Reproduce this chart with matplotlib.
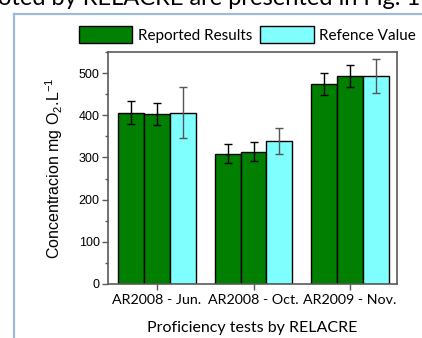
import matplotlib
matplotlib.use("Agg")
import matplotlib.pyplot as plt
from matplotlib.lines import Line2D
from matplotlib.patches import Patch
from matplotlib.ticker import MultipleLocator
import numpy as np

groups = ["AR2008 - Jun.", "AR2008 - Oct.", "AR2009 - Nov."]
reported_a = [406, 309, 475]
reported_a_err = [27, 23, 26]
reported_b = [404, 314, 492]
reported_b_err = [26, 23, 26]
reference = [406, 339, 493]
reference_err = [60, 30, 40]

green = "#007f00"
cyan = "#80ffff"
spine_col = "#5a5a5a"

plt.rcParams["mathtext.fontset"] = "custom"
plt.rcParams["mathtext.rm"] = "Liberation Sans"
plt.rcParams["mathtext.it"] = "Liberation Sans:italic"

fig = plt.figure(figsize=(4.22, 3.38), dpi=100)
W, H = 422.0, 338.0
ax = fig.add_axes([108 / W, 1 - 284 / H, (397 - 108) / W, (284 - 52) / H])

x = np.arange(len(groups))
w = 0.267
ekw = dict(elinewidth=1.0, capthick=1.0)
ax.bar(x - w, reported_a, w, color=green, edgecolor="black", linewidth=1.0,
       yerr=reported_a_err, capsize=3, ecolor="black", error_kw=ekw)
ax.bar(x, reported_b, w, color=green, edgecolor="black", linewidth=1.0,
       yerr=reported_b_err, capsize=3, ecolor="black", error_kw=ekw)
ax.bar(x + w, reference, w, color=cyan, edgecolor="black", linewidth=1.0,
       yerr=reference_err, capsize=3, ecolor="#555555", error_kw=ekw)

ax.set_xlim(-0.508, 2.487)
ax.set_ylim(0, 550)
ax.yaxis.set_major_locator(MultipleLocator(100))
ax.yaxis.set_minor_locator(MultipleLocator(50))
ax.set_xticks(x)
ax.set_xticklabels(groups, fontfamily="Lato", fontsize=10.3)
for lab in ax.get_yticklabels():
    lab.set_fontfamily("Liberation Sans")
    lab.set_fontsize(9)
ax.tick_params(axis="both", direction="out", length=4, width=1.0, color=spine_col, pad=2)
ax.tick_params(axis="y", which="minor", direction="out", length=2.5, width=1.0, color=spine_col)
ax.tick_params(axis="x", pad=3)
for s in ax.spines.values():
    s.set_color(spine_col)
    s.set_linewidth(1.2)

ax.set_ylabel("Concentracion mg O$_\\mathrm{2}$.L$^\\mathrm{-1}$", fontfamily="Liberation Sans",
              fontsize=11.5, labelpad=10)
ax.set_xlabel("Proficiency tests by RELACRE", fontfamily="Lato", fontsize=11.5, labelpad=11)

handles = [Patch(facecolor=green, edgecolor="black", linewidth=1.0),
           Patch(facecolor=cyan, edgecolor="black", linewidth=1.0)]
fig.legend(handles, ["Reported Results", "Refence Value"], ncol=2, frameon=False,
           loc="center left", bbox_to_anchor=(79 / W, 1 - 34.5 / H),
           prop={"family": "Lato", "size": 11}, handlelength=3.5, handleheight=1.4,
           handletextpad=0.33, columnspacing=0.55, borderpad=0, borderaxespad=0)

# page context around the figure
fig.text(-0.004, 1 - 5 / H, "oted by RELACRE are presented in Fig. 1",
         fontfamily="Lato", fontsize=17, ha="left", va="baseline")
fig.add_artist(Line2D([14 / W, 1], [1 - 13.5 / H, 1 - 13.5 / H], color="#9eb9dd", lw=1.6,
                      transform=fig.transFigure))
fig.add_artist(Line2D([14 / W, 14 / W], [0, 1 - 13.5 / H], color="#9eb9dd", lw=1.6,
                      transform=fig.transFigure))

fig.savefig("out.png", dpi=100)
